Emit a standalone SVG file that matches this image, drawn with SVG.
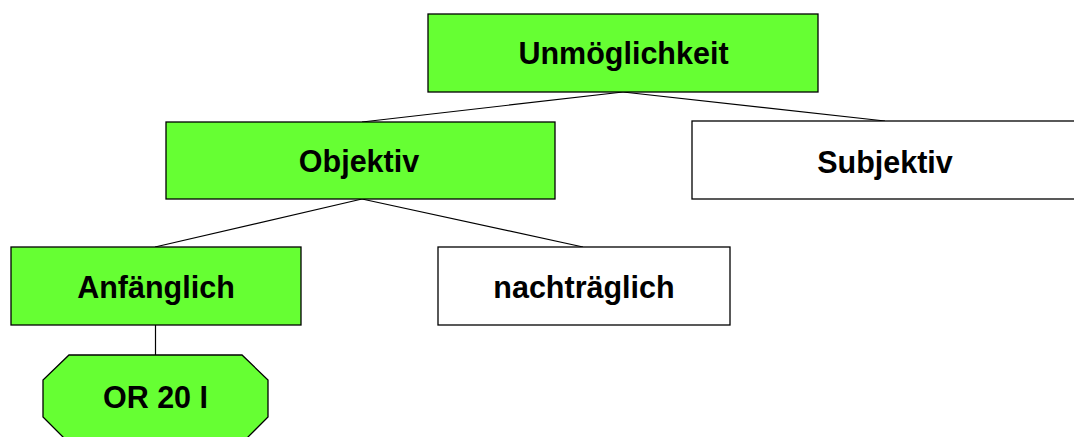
<svg xmlns="http://www.w3.org/2000/svg" width="1074" height="437" viewBox="0 0 1074 437">
  <style>
    .box { stroke: #000; stroke-width: 1.3; }
    .on { fill: #66FF33; }
    .off { fill: #FFFFFF; }
    .lbl { font-family: "Liberation Sans", Arial, sans-serif; font-weight: bold; font-size: 30.5px; fill: #000; text-anchor: middle; }
    .edge { stroke: #000; stroke-width: 1.2; fill: none; }
  </style>
  <rect width="1074" height="437" fill="#FFFFFF"/>

  <g id="connectors">
    <line class="edge" x1="623" y1="92" x2="362" y2="122"/>
    <line class="edge" x1="623" y1="92" x2="885" y2="121"/>
    <line class="edge" x1="362" y1="199" x2="155" y2="247"/>
    <line class="edge" x1="362" y1="199" x2="583" y2="247"/>
    <line class="edge" x1="155.5" y1="325" x2="155.5" y2="355"/>
  </g>

  <g id="unmoeglichkeit">
    <rect class="box on" x="428" y="14" width="390" height="78"/>
    <text class="lbl" x="623.5" y="63.5">Unmöglichkeit</text>
  </g>

  <g id="objektiv">
    <rect class="box on" x="166" y="122" width="389" height="77"/>
    <text class="lbl" x="359" y="172">Objektiv</text>
  </g>

  <g id="subjektiv">
    <rect class="box off" x="692" y="121" width="387" height="78"/>
    <text class="lbl" x="885" y="173">Subjektiv</text>
  </g>

  <g id="anfaenglich">
    <rect class="box on" x="11" y="247" width="290" height="78"/>
    <text class="lbl" x="156" y="298">Anfänglich</text>
  </g>

  <g id="nachtraeglich">
    <rect class="box off" x="438" y="247" width="292" height="78"/>
    <text class="lbl" x="584" y="298">nachträglich</text>
  </g>

  <g id="or20">
    <polygon class="box on" points="69,355 242,355 268,380 268,417 242,443 69,443 43,417 43,380"/>
    <text class="lbl" x="155.5" y="408">OR 20 I</text>
  </g>
</svg>
